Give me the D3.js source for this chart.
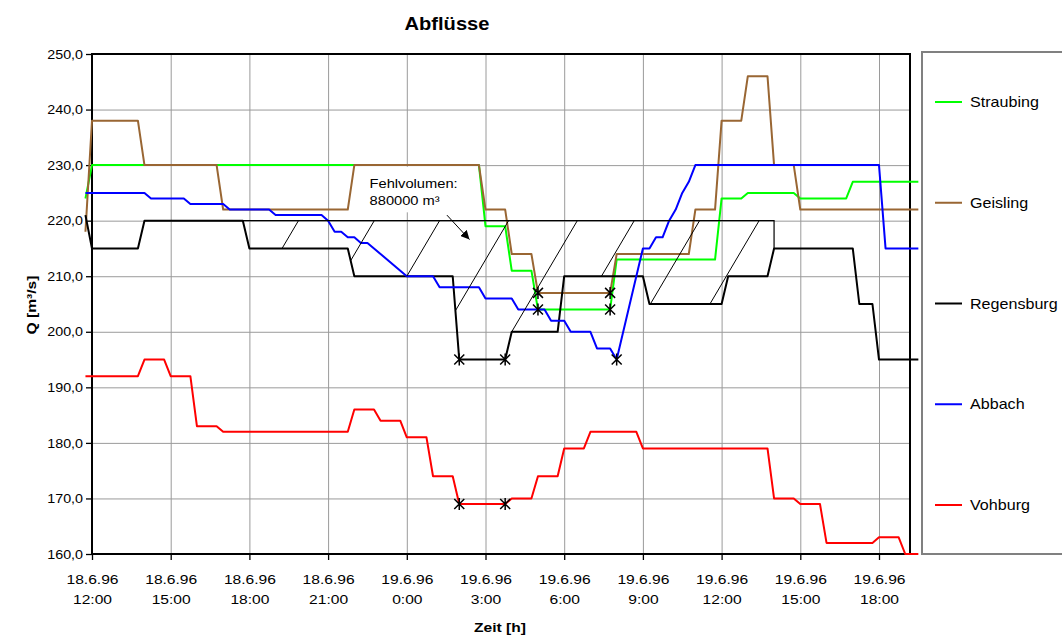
<!DOCTYPE html>
<html><head><meta charset="utf-8">
<script src="https://cdn.jsdelivr.net/npm/d3@7"></script>
<style>
body{margin:0;background:#fff;}
svg{display:block;font-family:"Liberation Sans",Arial,sans-serif;}
</style></head><body>
<svg id="chart" width="1062" height="637"></svg>
<script>
// ---- data (hours after 18.6.96 12:00, discharge in m³/s) ----
const seriesNames = ["Straubing","Geisling","Regensburg","Abbach","Vohburg"];
const straubing = [[-0.25,224],[0,230],[14.75,230],[15,219],[15.75,219],[16,211],[16.75,211],[17,204],[19.75,204],[20,213],[23.75,213],[24,224],[24.75,224],[25,225],[26.75,225],[27,224],[28.75,224],[29,227],[31.5,227]];
const geisling = [[-0.25,218],[0,238],[1.75,238],[2,230],[4.75,230],[5,222],[9.75,222],[10,230],[14.75,230],[15,222],[15.75,222],[16,214],[16.75,214],[17,207],[19.75,207],[20,214],[22.75,214],[23,222],[23.75,222],[24,238],[24.75,238],[25,246],[25.75,246],[26,230],[26.75,230],[27,222],[31.5,222]];
const regensburg = [[-0.25,221],[0,215],[1.75,215],[2,220],[5.75,220],[6,215],[9.75,215],[10,210],[13.75,210],[14,195],[15.75,195],[16,200],[17.75,200],[18,210],[21,210],[21.25,205],[24,205],[24.25,210],[25.75,210],[26,215],[29,215],[29.25,205],[29.75,205],[30,195],[31.5,195]];
const abbach = [[-0.25,225],[2,225],[2.25,224],[3.5,224],[3.75,223],[5,223],[5.25,222],[6.75,222],[7,221],[8.75,221],[9,220],[9.25,218],[9.5,218],[9.75,217],[10,217],[10.25,216],[10.5,216],[12,210],[13,210],[13.25,208],[14.75,208],[15,206],[16,206],[16.25,204],[17.25,204],[17.5,202],[18,202],[18.25,200],[19,200],[19.25,197],[19.75,197],[20,195],[21,215],[21.25,215],[21.5,217],[21.75,217],[22,220],[22.25,222],[22.5,225],[22.75,227],[23,230],[30,230],[30.25,215],[31.5,215]];
const vohburg = [[-0.25,192],[1.75,192],[2,195],[2.75,195],[3,192],[3.75,192],[4,183],[4.75,183],[5,182],[9.75,182],[10,186],[10.75,186],[11,184],[11.75,184],[12,181],[12.75,181],[13,174],[13.75,174],[14,169],[15.75,169],[16,170],[16.75,170],[17,174],[17.75,174],[18,179],[18.75,179],[19,182],[20.75,182],[21,179],[25.75,179],[26,170],[26.75,170],[27,169],[27.75,169],[28,162],[29.75,162],[30,163],[30.75,163],[31,160],[31.5,160]];

const yTicks = [160,170,180,190,200,210,220,230,240,250];
const xTickHours = [0,3,6,9,12,15,18,21,24,27,30];
const xTickDates = ["18.6.96","18.6.96","18.6.96","18.6.96","19.6.96","19.6.96","19.6.96","19.6.96","19.6.96","19.6.96","19.6.96"];
const xTickTimes = ["12:00","15:00","18:00","21:00","0:00","3:00","6:00","9:00","12:00","15:00","18:00"];

// star markers: [series, hour]
const markerSeries = ["Regensburg","Regensburg","Vohburg","Vohburg","Geisling","Geisling","Straubing","Straubing","Abbach"];
const markerHours  = [14,15.75,14,15.75,17,19.75,17,19.75,20];

// deficit area (Fehlvolumen) against 220 m³/s
const deficitLevel = 220;
const deficitFrom = 5.75, deficitTo = 26;
const hatchTops = [7.87,10.76,13.25,15.88,18.5,20.67,23.16,25.43];
const hatchSlope = 0.125; // hours per m³/s
const annotationLines = ["Fehlvolumen:","880000 m³"];

const titleText = "Abflüsse", xTitle = "Zeit [h]", yTitle = "Q [m³/s]";

// ---- drawing ----
const colors = ["#00ff00","#996633","#000000","#0000ff","#ff0000"];
const dataBy = {Straubing:straubing,Geisling:geisling,Regensburg:regensburg,Abbach:abbach,Vohburg:vohburg};
const L=92,R=910,T=54,B=554;
const x = d3.scaleLinear().domain([0,30]).range([92,879]);
const y = d3.scaleLinear().domain([160,250]).range([554,54]);
const svg = d3.select("#chart");

function interp(arr,t){
  for(let i=0;i<arr.length-1;i++){
    const a=arr[i],b=arr[i+1];
    if(t>=a[0]&&t<=b[0]){ if(b[0]===a[0]) return a[1]; return a[1]+(b[1]-a[1])*(t-a[0])/(b[0]-a[0]); }
  }
  return arr[arr.length-1][1];
}

// grid
svg.append("g").attr("transform",`translate(0,${B})`)
  .call(d3.axisBottom(x).tickValues(xTickHours.slice(1)).tickSize(-(B-T)).tickFormat(""))
  .call(g=>g.select(".domain").remove())
  .selectAll("line").attr("stroke","#9a9a9a");
svg.append("g").attr("transform",`translate(${L},0)`)
  .call(d3.axisLeft(y).tickValues(yTicks.slice(1,-1)).tickSize(-(R-L)).tickFormat(""))
  .call(g=>g.select(".domain").remove())
  .selectAll("line").attr("stroke","#9a9a9a");

// annotation background box
svg.append("rect").attr("x",x(10.3)).attr("y",y(229.7)).attr("width",x(14.1)-x(10.3)).attr("height",y(221.5)-y(229.7)).attr("fill","#fff");

// frame
svg.append("rect").attr("x",L).attr("y",T).attr("width",R-L).attr("height",B-T).attr("fill","none").attr("stroke","#000").attr("stroke-width",2);

// y axis
const sxT = 1.2, sxY = 1.1;
const yAx = svg.append("g").attr("transform",`translate(${L},0)`)
  .call(d3.axisLeft(y).tickValues(yTicks).tickSize(6).tickFormat(d=>d3.format(".1f")(d).replace(".",",")));
yAx.select(".domain").remove();
yAx.selectAll("line").attr("stroke","#000").attr("stroke-width",1.3);
yAx.selectAll("text").attr("x",-9/sxY).attr("transform",`scale(${sxY},1)`).attr("font-size",13).attr("fill","#000")
  .attr("font-family","Liberation Sans, Arial, sans-serif");

// x axis
const xAx = svg.append("g").attr("transform",`translate(0,${B})`)
  .call(d3.axisBottom(x).tickValues(xTickHours).tickSize(6).tickFormat(""));
xAx.select(".domain").remove();
xAx.selectAll("line").attr("stroke","#000").attr("stroke-width",1.3);
xAx.selectAll(".tick").each(function(d,i){
  const t = d3.select(this).append("text").attr("transform",`scale(${sxT},1)`).attr("text-anchor","middle")
    .attr("font-size",13).attr("fill","#000").attr("font-family","Liberation Sans, Arial, sans-serif");
  t.append("tspan").attr("x",0).attr("y",30).text(xTickDates[i]);
  t.append("tspan").attr("x",0).attr("y",50).text(xTickTimes[i]);
});

// series
const line = d3.line().x(d=>x(d[0])).y(d=>y(d[1]));
seriesNames.forEach((n,i)=>{
  svg.append("path").datum(dataBy[n]).attr("d",line).attr("fill","none")
    .attr("stroke",colors[i]).attr("stroke-width",2).attr("stroke-linejoin","round");
});

// deficit reference line
svg.append("path").datum([[deficitFrom,deficitLevel],[deficitTo,deficitLevel],[deficitTo,interp(regensburg,deficitTo)]])
  .attr("d",line).attr("fill","none").attr("stroke","#000").attr("stroke-width",1.2);

// hatch lines
hatchTops.forEach(t0=>{
  let v=deficitLevel, t=t0;
  for(let k=0;k<5000;k++){
    const vv = deficitLevel - k*0.01, tt = t0 - hatchSlope*(deficitLevel-vv);
    if(vv <= interp(regensburg,tt)){ v=vv; t=tt; break; }
    v=vv; t=tt;
  }
  svg.append("line").attr("x1",x(t0)).attr("y1",y(deficitLevel)).attr("x2",x(t)).attr("y2",y(v))
    .attr("stroke","#000").attr("stroke-width",1);
});

// star markers
markerSeries.forEach((n,i)=>{
  const t=markerHours[i], v=interp(dataBy[n],t);
  svg.append("path").attr("transform",`translate(${x(t)},${y(v)})`)
    .attr("d","M-5,-5L5,5M-5,5L5,-5M0,-6L0,6").attr("stroke","#000").attr("stroke-width",1.5).attr("fill","none");
});

// annotation text + arrow
annotationLines.forEach((s,i)=>{
  svg.append("text").attr("transform",`translate(${x(10.58)},${y(225.9)+i*16.7}) scale(1.13,1)`)
    .attr("font-size",13).attr("fill","#000").text(s);
});
svg.append("defs").append("marker").attr("id","arr").attr("viewBox","0 0 10 10").attr("refX",10).attr("refY",5)
  .attr("markerWidth",9).attr("markerHeight",9).attr("markerUnits","userSpaceOnUse").attr("orient","auto")
  .append("path").attr("d","M0,0L10,5L0,10Z").attr("fill","#000");
svg.append("line").attr("x1",x(13.53)).attr("y1",y(221.0)).attr("x2",x(14.39)).attr("y2",y(216.6))
  .attr("stroke","#000").attr("stroke-width",1).attr("marker-end","url(#arr)");

// legend
svg.append("rect").attr("x",922).attr("y",52).attr("width",170).attr("height",502)
  .attr("fill","none").attr("stroke","#808080").attr("stroke-width",2);
seriesNames.forEach((n,i)=>{
  const yy = 102 + i*100.75;
  svg.append("line").attr("x1",935).attr("x2",962).attr("y1",yy).attr("y2",yy).attr("stroke",colors[i]).attr("stroke-width",2);
  svg.append("text").attr("transform",`translate(970,${yy+5}) scale(1.15,1)`).attr("font-size",14).attr("fill","#000").text(n);
});

// titles
svg.append("text").attr("transform","translate(447,30) scale(1.06,1)").attr("text-anchor","middle")
  .attr("font-size",19).attr("font-weight","bold").attr("fill","#000").text(titleText);
svg.append("text").attr("transform","translate(500,632) scale(1.2,1)").attr("text-anchor","middle")
  .attr("font-size",13).attr("font-weight","bold").attr("fill","#000").text(xTitle);
svg.append("text").attr("transform","translate(36,305) rotate(-90) scale(1.2,1)").attr("text-anchor","middle")
  .attr("font-size",13).attr("font-weight","bold").attr("fill","#000").text(yTitle);
</script>
</body></html>
